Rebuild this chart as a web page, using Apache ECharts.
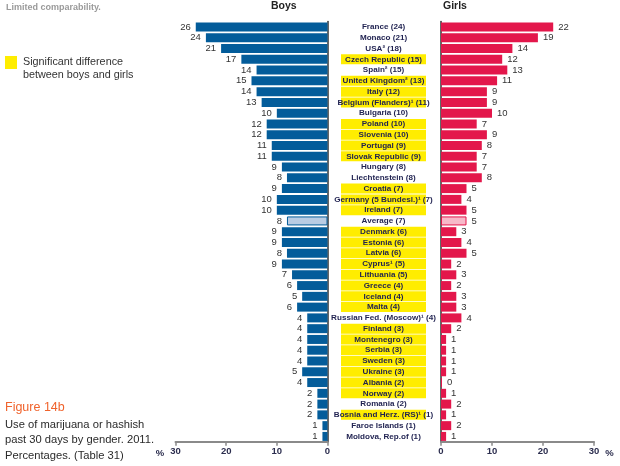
<!DOCTYPE html>
<html><head><meta charset="utf-8">
<script src="https://cdn.jsdelivr.net/npm/echarts@6/dist/echarts.min.js"></script>
<style>html,body{margin:0;padding:0;background:#fff}#c{width:620px;height:466px}</style>
</head><body><div id="c"></div>
<script>
const countries = ['France (24)','Monaco (21)','USA\u00B2 (18)','Czech Republic (15)','Spain\u00B2 (15)','United Kingdom\u00B2 (13)','Italy (12)','Belgium (Flanders)\u00B9 (11)','Bulgaria (10)','Poland (10)','Slovenia (10)','Portugal (9)','Slovak Republic (9)','Hungary (8)','Liechtenstein (8)','Croatia (7)','Germany (5 Bundesl.)\u00B9 (7)','Ireland (7)','Average (7)','Denmark (6)','Estonia (6)','Latvia (6)','Cyprus\u00B9 (5)','Lithuania (5)','Greece (4)','Iceland (4)','Malta (4)','Russian Fed. (Moscow)\u00B9 (4)','Finland (3)','Montenegro (3)','Serbia (3)','Sweden (3)','Ukraine (3)','Albania (2)','Norway (2)','Romania (2)','Bosnia and Herz. (RS)\u00B9 (1)','Faroe Islands (1)','Moldova, Rep.of (1)'];
const boys  = [26,24,21,17,14,15,14,13,10,12,12,11,11,9,8,9,10,10,8,9,9,8,9,7,6,5,6,4,4,4,4,4,5,4,2,2,2,1,1];
const girls = [22,19,14,12,13,11,9,9,10,7,9,8,7,7,8,5,4,5,5,3,4,5,2,3,2,3,3,4,2,1,1,1,1,0,1,2,1,2,1];
const significant = [0,0,0,1,0,1,1,1,0,1,1,1,1,0,0,1,1,1,0,1,1,1,1,1,1,1,1,0,1,1,1,1,1,1,1,0,1,0,0];
const averageName = 'Average (7)';

const FONT = '"Liberation Sans Narrow","Liberation Sans",Arial,sans-serif';
const BLUE = '#035C9A', RED = '#E3174B';
const gTop = 21.6, gHeight = 420.2;

const chart = echarts.init(document.getElementById('c'), null, {renderer:'canvas'});

function barData(vals, color, avgFill) {
  return vals.map((v, i) => countries[i] === averageName
    ? {value: v, itemStyle: {color: avgFill, borderColor: color, borderWidth: 1}}
    : {value: v, itemStyle: {color: color}});
}
const xAxisCommon = {
  type:'value', min:0, max:30, interval:10,
  splitLine:{show:false},
  axisLine:{show:true, lineStyle:{color:'#8a8a8a', width:2}},
  axisTick:{show:true, length:4, lineStyle:{color:'#8a8a8a', width:1.5}},
  axisLabel:{color:'#2b2d4e', fontFamily:FONT, fontWeight:'bold', fontSize:9.5, margin:5},
  name:'%', nameLocation:'end',
  nameTextStyle:{color:'#2b2d4e', fontFamily:FONT, fontWeight:'bold', fontSize:9.5, verticalAlign:'top', padding:[7,0,0,0]}
};
const yCommon = {type:'category', data:countries, inverse:true,
  axisTick:{show:false}, axisLabel:{show:false}, splitLine:{show:false}};

chart.setOption({
  animation:false,
  grid:[
    {left:175.5, width:152, top:gTop, height:gHeight},
    {left:341, width:85, top:gTop, height:gHeight},
    {left:441, width:153, top:gTop, height:gHeight}
  ],
  xAxis:[
    Object.assign({}, xAxisCommon, {gridIndex:0, inverse:true, nameGap:7}),
    {gridIndex:1, type:'value', min:0, max:1, show:false},
    Object.assign({}, xAxisCommon, {gridIndex:2, nameGap:8})
  ],
  yAxis:[
    Object.assign({}, yCommon, {gridIndex:0, position:'right', axisLine:{show:true, onZero:false, lineStyle:{color:'#333', width:1.5}}}),
    Object.assign({}, yCommon, {gridIndex:1, show:false}),
    Object.assign({}, yCommon, {gridIndex:2, position:'left', axisLine:{show:true, onZero:false, lineStyle:{color:'#333', width:1.5}}})
  ],
  series:[
    {type:'bar', xAxisIndex:0, yAxisIndex:0, barWidth:9, data:barData(boys, BLUE, '#B9CCE3'),
     label:{show:true, position:'left', distance:5, color:'#333', fontFamily:FONT, fontSize:9.5}},
    {type:'bar', xAxisIndex:1, yAxisIndex:1, barWidth:10,
     data:significant.map(s => ({value:1, itemStyle:{color: s ? '#FFED00' : 'rgba(0,0,0,0)'}})),
     label:{show:true, position:'inside', formatter:p => p.name, color:'#1f2150', fontFamily:FONT, fontWeight:'bold', fontSize:8.1}},
    {type:'bar', xAxisIndex:2, yAxisIndex:2, barWidth:9, barMinHeight:1, data:barData(girls, RED, '#F7B9C9'),
     label:{show:true, position:'right', distance:5, color:'#333', fontFamily:FONT, fontSize:9.5}}
  ],
  graphic:[
    {type:'text', left:6, top:3, style:{text:'Limited comparability.', fill:'#9a9a9a', font:'bold 9px '+FONT}},
    {type:'text', left:271, top:1, style:{text:'Boys', fill:'#222', font:'bold 10.5px '+FONT}},
    {type:'text', left:443, top:1, style:{text:'Girls', fill:'#222', font:'bold 10.5px '+FONT}},
    {type:'rect', left:5, top:56, shape:{width:12, height:13}, style:{fill:'#FFED00'}},
    {type:'text', left:23, top:56, style:{text:'Significant difference\nbetween boys and girls', fill:'#333', font:'10.8px '+FONT, lineHeight:13}},
    {type:'text', left:5, top:401, style:{text:'Figure 14b', fill:'#F0632C', font:'12.5px '+FONT}},
    {type:'text', left:5, top:417, style:{text:'Use of marijuana or hashish\npast 30 days by gender. 2011.\nPercentages. (Table 31)', fill:'#2a2a2a', font:'11.2px '+FONT, lineHeight:15.5}}
  ]
});
</script></body></html>
